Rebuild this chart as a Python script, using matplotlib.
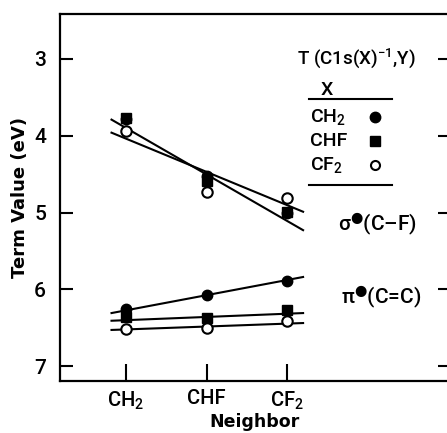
import numpy as np
import matplotlib
matplotlib.use("Agg")
import matplotlib.pyplot as plt

plt.rcParams['font.family'] = ['Roboto', 'DejaVu Sans']
plt.rcParams['font.weight'] = 'medium'
plt.rcParams['mathtext.fontset'] = 'custom'
plt.rcParams['mathtext.rm'] = 'Roboto:medium'
plt.rcParams['mathtext.default'] = 'rm'
plt.rcParams['mathtext.fallback'] = 'stixsans'

neighbors = ['CH$_2$', 'CHF', 'CF$_2$']
x = np.arange(len(neighbors))

# term values (eV) of sigma*(C-F), one list per X
sigma_ch2 = [3.78, 4.52, 5.00]
sigma_chf = [3.77, 4.59, 4.99]
sigma_cf2 = [3.94, 4.73, 4.81]

# term values (eV) of pi*(C=C)
pi_ch2 = [6.26, 6.07, 5.89]
pi_chf = [6.36, 6.37, 6.27]
pi_cf2 = [6.52, 6.50, 6.41]

# trend lines, value at each end
line_x = [-0.18, 2.2]
sigma_steep = [3.79, 5.23]
sigma_flat = [3.96, 4.99]
pi_line_ch2 = [6.31, 5.84]
pi_line_chf = [6.41, 6.31]
pi_line_cf2 = [6.53, 6.44]

fig = plt.figure(figsize=(4.47, 4.33), dpi=100)
ax = fig.add_axes([60/447, 1 - 381/433, 390/447, 367/433])

for yy in [sigma_steep, sigma_flat, pi_line_ch2, pi_line_chf, pi_line_cf2]:
    ax.plot(line_x, yy, color='black', lw=1.5, zorder=2)

filled_c = dict(marker='o', ls='none', ms=7.5, color='black', zorder=3)
filled_s = dict(marker='s', ls='none', ms=7, color='black', zorder=4)
open_c = dict(marker='o', ls='none', ms=7.5, mfc='white', mec='black', mew=1.5, zorder=5)

ax.plot(x, sigma_ch2, **filled_c)
ax.plot(x, sigma_chf, **filled_s)
ax.plot(x, sigma_cf2, **open_c)
ax.plot(x, pi_ch2, **filled_c)
ax.plot(x, pi_chf, **filled_s)
ax.plot(x, pi_cf2, **open_c)

ax.set_xlim(-0.82, 4.025)
ax.set_ylim(7.195, 2.414)
ax.set_yticks([3, 4, 5, 6, 7])
ax.set_xticks(x, neighbors)
ax.tick_params(axis='y', left=True, right=True, direction='in', length=9, width=1.5,
               labelsize=15, pad=10)
ax.tick_params(axis='x', direction='in', length=12, width=1.5, labelsize=14.5, pad=6)
for s in ax.spines.values():
    s.set_linewidth(1.6)

ax.set_xlabel('Neighbor', family='DejaVu Sans', fontweight='bold', fontsize=12.5, labelpad=1)
ax.set_ylabel('Term Value (eV)', family='DejaVu Sans', fontweight='bold', fontsize=13, labelpad=4)

# key in the upper right
ax.text(2.86, 2.99, 'T (C1s(X)$^{-1}$,Y)', fontsize=13.5, ha='center', va='center')
ax.text(2.50, 3.40, 'X', fontsize=14, ha='center', va='center')
ax.plot([2.27, 3.30], [3.52, 3.52], color='black', lw=1.5, clip_on=False)
ax.text(2.29, 3.76, 'CH$_2$', fontsize=14, ha='left', va='center')
ax.text(2.29, 4.07, 'CHF', fontsize=14, ha='left', va='center')
ax.text(2.29, 4.38, 'CF$_2$', fontsize=14, ha='left', va='center')
ax.plot([3.09], [3.76], **filled_c)
ax.plot([3.09], [4.07], **filled_s)
ax.plot([3.09], [4.38], **dict(open_c, ms=6.5))
ax.plot([2.27, 3.30], [4.64, 4.64], color='black', lw=1.5, clip_on=False)

ax.text(3.13, 5.16, 'σ$^{●}$(C–F)', fontsize=15, ha='center', va='center')
ax.text(3.17, 6.11, 'π$^{●}$(C=C)', fontsize=15, ha='center', va='center')

fig.savefig('out.png', dpi=100)
